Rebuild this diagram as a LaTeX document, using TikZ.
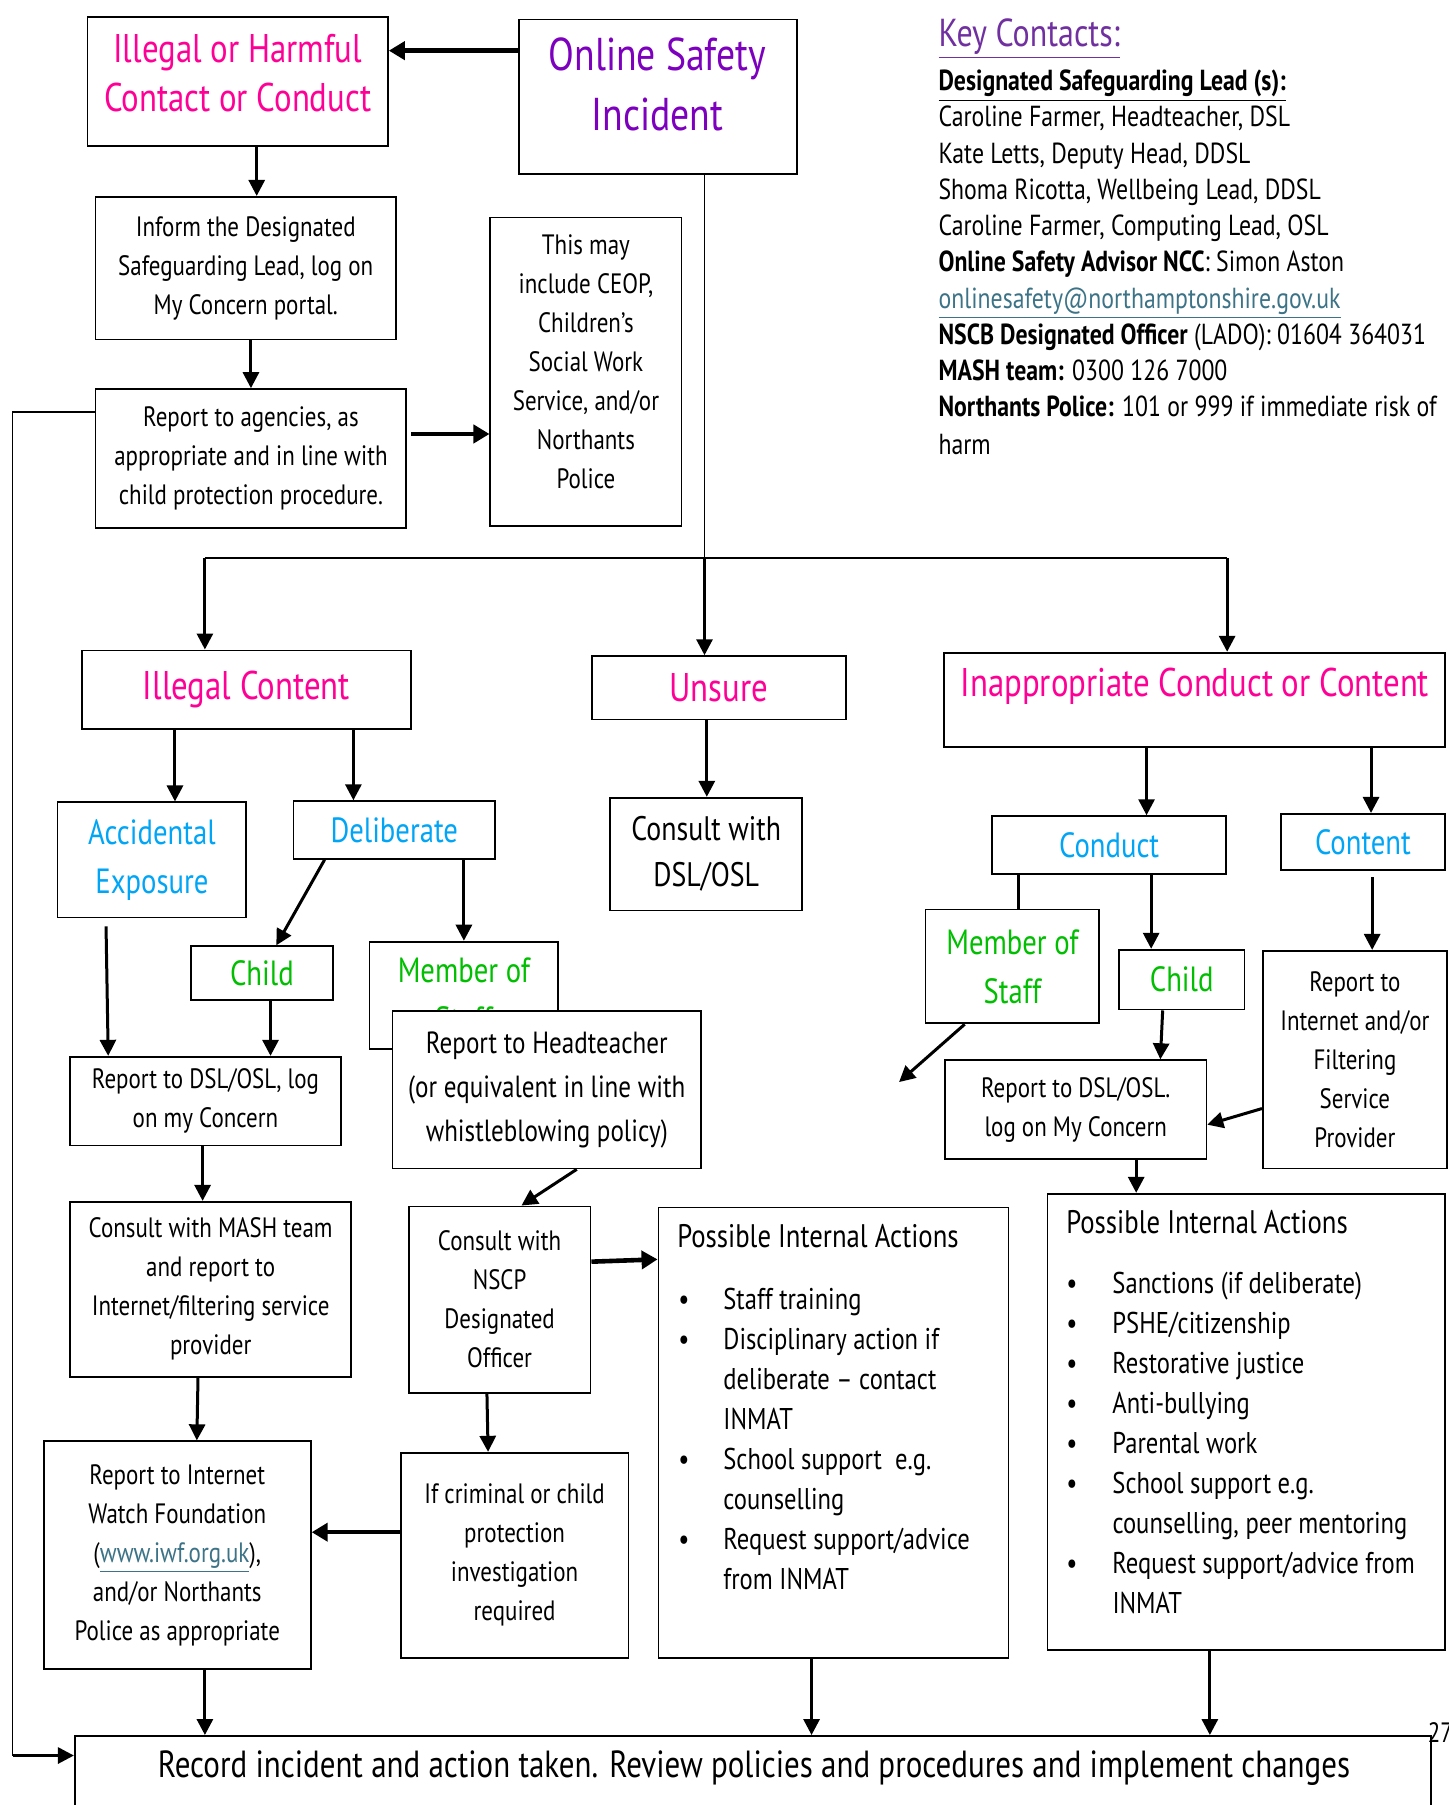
\documentclass[tikz,border=0pt]{standalone}
\usepackage{fontspec}
\setmainfont[FakeStretch=0.82]{PT Sans}
\usetikzlibrary{arrows.meta}

\definecolor{pinkc}{RGB}{255,0,150}
\definecolor{violetc}{RGB}{125,0,190}
\definecolor{keyc}{RGB}{112,48,160}
\definecolor{bluec}{RGB}{0,165,245}
\definecolor{greenc}{RGB}{0,190,0}
\definecolor{linkc}{RGB}{60,115,135}

\tikzset{
  box/.style={draw, line width=0.9pt, fill=white, inner sep=0pt, align=center},
  sz/.style 2 args={minimum width=#1*0.5755pt, minimum height=#2*0.5755pt},
  bodytext/.style={font=\fontsize{14}{19.5}\selectfont, align=center},
  midtext/.style={font=\fontsize{15.3}{22}\selectfont, align=center},
  bigtext/.style={font=\fontsize{17}{23}\selectfont, align=center},
  titletext/.style={font=\fontsize{20}{24.5}\selectfont, align=center},
  subtext/.style={font=\fontsize{17.5}{24.5}\selectfont, align=center},
  headline/.style={font=\fontsize{23}{30}\selectfont, align=center},
  rectext/.style={font=\fontsize{18.9}{22}\selectfont},
  bullets/.style={font=\fontsize{15}{20}\selectfont, inner sep=0pt},
  keytext/.style={font=\fontsize{14.5}{18.1}\selectfont, align=left, inner sep=0pt},
  arr/.style={line width=1.5pt, -{Triangle[length=8pt,width=8pt]}},
  fatarr/.style={line width=2.3pt, -{Triangle[length=8pt,width=9pt]}},
  thinline/.style={line width=0.7pt},
  busline/.style={line width=1.1pt},
  plainline/.style={line width=1.5pt}
}

\begin{document}
\begin{tikzpicture}[x=0.5755pt, y=-0.5755pt]
  \useasboundingbox (0,0) rectangle (1258,1568);
  \clip (0,0) rectangle (1258,1568);

  \node[box, sz={261}{112}] (harm) at (206.5,71) {};
  \node[titletext, text=pinkc] (harmt) at (206.5,63.5) {Illegal or Harmful\\Contact or Conduct};
  \node[box, sz={241}{134}] (osi) at (571.5,84) {};
  \node[headline, text=violetc] (osit) at (571,73) {Online Safety\\Incident};
  \node[box, bodytext, sz={261}{124}] (inform) at (213.5,233) {Inform the Designated\\Safeguarding Lead, log on\\My Concern portal.};
  \node[box, bodytext, sz={270}{121}] (agencies) at (218,398.5) {Report to agencies, as\\appropriate and in line with\\child protection procedure.};
  \node[box, sz={166}{268}] (ceop) at (509,323) {};
  \node[bodytext] (ceopt) at (509,314) {This may\\include CEOP,\\Children’s\\Social Work\\Service, and/or\\Northants\\Police};

  \node[keytext, anchor=north west] (keys) at (815,16) {%
    {\fontsize{19.5}{22}\selectfont\color{keyc}\underline{Key Contacts:}}\\[4pt]
    \textbf{\underline{Designated Safeguarding Lead (s):}}\\
    Caroline Farmer, Headteacher, DSL\\
    Kate Letts, Deputy Head, DDSL\\
    Shoma Ricotta, Wellbeing Lead, DDSL\\
    Caroline Farmer, Computing Lead, OSL\\
    \textbf{Online Safety Advisor NCC}: Simon Aston\\
    {\color{linkc}\underline{onlinesafety@northamptonshire.gov.uk}}\\
    \textbf{NSCB Designated Officer} (LADO): 01604 364031\\
    \textbf{MASH team:} 0300 126 7000\\
    \textbf{Northants Police:} 101 or 999 if immediate risk of\\[1pt]
    harm};

  \node[box, titletext, text=pinkc, sz={286}{68}] (illegal) at (214,599) {Illegal Content};
  \node[box, titletext, text=pinkc, sz={221}{55}] (unsure) at (624.5,597.5) {Unsure};
  \node[box, sz={435}{82}] (inapp) at (1037.5,608) {};
  \node[titletext, text=pinkc] (inappt) at (1038,596) {Inappropriate Conduct or Content};

  \node[box, subtext, text=bluec, sz={164}{100}] (accid) at (132,747) {Accidental\\Exposure};
  \node[box, subtext, text=bluec, sz={175}{50}] (delib) at (342.5,721) {Deliberate};
  \node[box, bigtext, sz={167}{98}] (consult) at (613.5,742) {Consult with\\DSL/OSL};
  \node[box, subtext, text=greenc, sz={123}{47}] (childL) at (227.5,845.5) {Child};
  \node[box, subtext, text=greenc, sz={164}{93}] (staffL) at (403,864.5) {Member of\\Staff};
  \node[box, midtext, sz={268}{137}] (head) at (475,946.5) {Report to Headteacher\\(or equivalent in line with\\whistleblowing policy)};
  \node[box, bodytext, sz={235}{77}] (dslL) at (178.5,956.5) {Report to DSL/OSL, log\\on my Concern};
  \node[box, bodytext, sz={244}{152}] (mash) at (183,1120) {Consult with MASH team\\and report to\\Internet/filtering service\\provider};
  \node[box, bodytext, sz={158}{162}] (nscp) at (434,1129) {Consult with\\NSCP\\Designated\\Officer};
  \node[box, sz={304}{391}] (piaM) at (724,1244.5) {};
  \node[bullets, anchor=north west] (piaMt) at (588,1059) {%
    \begin{tabular}{@{\hspace{0.5pt}}l@{\hspace{17pt}}l@{}}
      \multicolumn{2}{@{}l@{}}{\fontsize{16.3}{20}\selectfont Possible Internal Actions}\\[11pt]
      \textbullet & Staff training\\
      \textbullet & Disciplinary action if\\
                  & deliberate -- contact\\
                  & INMAT\\
      \textbullet & School support\ \ e.g.\\
                  & counselling\\
      \textbullet & Request support/advice\\
                  & from INMAT
    \end{tabular}};
  \node[box, bodytext, sz={198}{178}] (crim) at (447,1351) {If criminal or child\\protection\\investigation\\required};
  \node[box, bodytext, sz={232}{198}] (iwf) at (154,1351) {Report to Internet\\Watch Foundation\\({\color{linkc}\underline{www.iwf.org.uk}}),\\and/or Northants\\Police as appropriate};

  \node[box, subtext, text=bluec, sz={203}{50}] (conduct) at (963.5,734) {Conduct};
  \node[box, subtext, text=bluec, sz={142}{49}] (content) at (1184,731.5) {Content};
  \node[box, subtext, text=greenc, sz={151}{99}] (staffR) at (879.5,839.5) {Member of\\Staff};
  \node[box, subtext, text=greenc, sz={109}{52}] (childR) at (1026.5,851) {Child};
  \node[box, bodytext, sz={227}{86}] (dslR) at (934.5,964) {Report to DSL/OSL.\\log on My Concern};
  \node[box, bodytext, sz={160}{189}] (isp) at (1177,920.5) {Report to\\Internet and/or\\Filtering\\Service\\Provider};
  \node[box, sz={345}{396}] (piaR) at (1082.5,1235) {};
  \node[bullets, anchor=north west] (piaRt) at (926,1047) {%
    \begin{tabular}{@{}l@{\hspace{17.5pt}}l@{}}
      \multicolumn{2}{@{}l@{}}{\fontsize{16.3}{20}\selectfont Possible Internal Actions}\\[10pt]
      \textbullet & Sanctions (if deliberate)\\
      \textbullet & PSHE/citizenship\\
      \textbullet & Restorative justice\\
      \textbullet & Anti-bullying\\
      \textbullet & Parental work\\
      \textbullet & School support e.g.\\
                  & counselling, peer mentoring\\
      \textbullet & Request support/advice from\\
                  & INMAT
    \end{tabular}};

  \node[box, sz={1178}{82}] (record) at (654,1549) {};
  \node[rectext] (recordt) at (655,1536) {Record incident and action taken. Review policies and procedures and implement changes};
  \node[bodytext, anchor=west, inner sep=0pt] (pagenum) at (1240,1505) {27};

  \draw[fatarr] (osi.west |- 0,44) -- (harm.east |- 0,44);
  \draw[arr] (harm.south -| 223,0) -- (inform.north -| 223,0);
  \draw[arr] (inform.south -| 218,0) -- (agencies.north -| 218,0);
  \draw[fatarr, shorten <=2pt] (agencies.east |- 0,377) -- (ceop.west |- 0,377);

  \coordinate (busL) at (178,485);
  \coordinate (busM) at (612,485);
  \coordinate (busR) at (1066,485);
  \draw[thinline] (osi.south -| busM) -- (busM);
  \draw[busline] (busL) -- (busR);
  \draw[arr] (busL) -- (illegal.north -| busL);
  \draw[arr] (busM) -- (unsure.north -| busM);
  \draw[arr] (busR) -- (inapp.north -| busR);

  \coordinate (loopB) at (11,1525);
  \draw[thinline] (agencies.west |- 0,358) -| (loopB);
  \draw[arr] (loopB) -- (record.west |- loopB);

  \draw[arr] (illegal.south -| 152,0) -- (accid.north -| 152,0);
  \draw[arr] (illegal.south -| 307,0) -- (delib.north -| 307,0);
  \draw[arr] (unsure.south -| 614,0) -- (consult.north -| 614,0);
  \draw[arr] (delib.south -| 282,0) -- (childL.north -| 240,0);
  \draw[arr] (delib.south -| 403,0) -- (staffL.north -| 403,0);
  \draw[arr, shorten <=4pt] (accid.south -| 92,0) -- (dslL.north -| 94,0);
  \draw[arr] (childL.south -| 235,0) -- (dslL.north -| 235,0);
  \draw[arr] (dslL.south -| 176,0) -- (mash.north -| 176,0);
  \draw[arr] (head.south -| 501,0) -- (nscp.north -| 453,0);
  \draw[fatarr] (nscp.east |- 0,1096) -- (piaM.west |- 0,1094);
  \draw[arr] (nscp.south -| 423,0) -- (crim.north -| 424,0);
  \draw[arr] (mash.south -| 172,0) -- (iwf.north -| 171,0);
  \draw[fatarr] (crim.west |- 0,1331) -- (iwf.east |- 0,1331);
  \draw[arr] (iwf.south -| 178,0) -- (record.north -| 178,0);
  \draw[arr] (piaM.south -| 705,0) -- (record.north -| 705,0);
  \draw[arr] (piaR.south -| 1051,0) -- (record.north -| 1051,0);

  \draw[arr] (inapp.south -| 996,0) -- (conduct.north -| 996,0);
  \draw[arr] (inapp.south -| 1191,0) -- (content.north -| 1191,0);
  \draw[plainline] (conduct.south -| 885,0) -- (staffR.north -| 885,0);
  \draw[arr] (conduct.south -| 1000,0) -- (childR.north -| 1000,0);
  \coordinate (loose) at (781,940);
  \draw[arr] (staffR.south -| 838,0) -- (loose);
  \draw[arr] (childR.south -| 1010,0) -- (dslR.north -| 1008,0);
  \draw[arr, shorten <=3pt] (content.south -| 1192,0) -- (isp.north -| 1192,0);
  \draw[arr] (isp.west |- 0,963) -- (dslR.east |- 0,977);
  \draw[arr] (dslR.south -| 987,0) -- (piaR.north -| 987,0);
\end{tikzpicture}
\end{document}
